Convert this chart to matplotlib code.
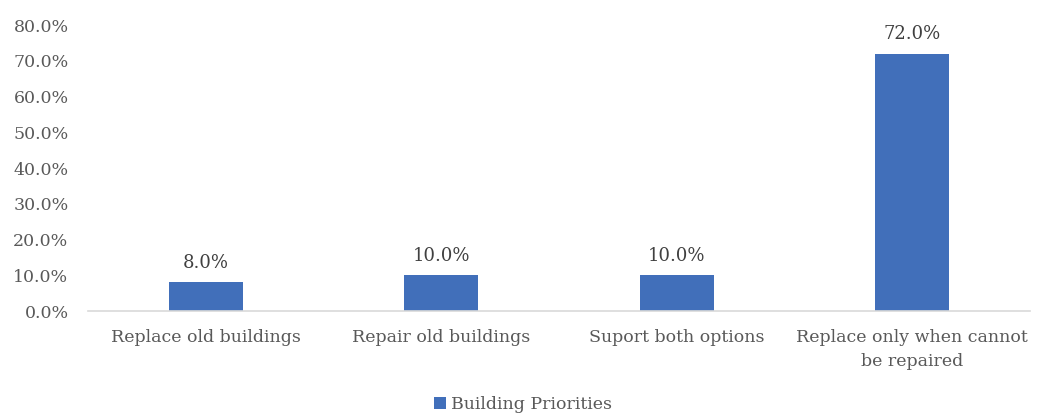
import matplotlib.pyplot as plt
from matplotlib.ticker import PercentFormatter

categories = ['Replace old buildings', 'Repair old buildings', 'Suport both options',
              'Replace only when cannot\nbe repaired']
shares = [8.0, 10.0, 10.0, 72.0]
series_name = 'Building Priorities'

plt.rcParams['font.family'] = ['DejaVu Serif']
grey = '#595959'

fig = plt.figure(figsize=(10.46, 4.18), dpi=100)
ax = fig.add_axes([88 / 1046, 1 - 311 / 418, (1030 - 88) / 1046, (311 - 25) / 418])

x = range(len(categories))
bars = ax.bar(x, shares, width=0.315, color='#416FBA', label=series_name)
for b, v in zip(bars, shares):
    ax.text(b.get_x() + b.get_width() / 2, v + 3.0, f'{v:.1f}%',
            ha='center', va='bottom', fontsize=13, color='#404040')

ax.set_xlim(-0.5, len(categories) - 0.5)
ax.set_ylim(0, 80)
ax.set_yticks(range(0, 81, 10))
ax.yaxis.set_major_formatter(PercentFormatter(decimals=1))
ax.set_xticks(list(x))
ax.set_xticklabels(categories, linespacing=1.5)
ax.tick_params(length=0, labelsize=12.5, colors=grey)
ax.tick_params(axis='x', pad=13)
ax.tick_params(axis='y', pad=14)

for side in ['top', 'right', 'left']:
    ax.spines[side].set_visible(False)
ax.spines['bottom'].set_color('#d9d9d9')
ax.spines['bottom'].set_linewidth(1.2)

fig.legend(loc='lower center', bbox_to_anchor=(0.5, -0.025), frameon=False,
           handlelength=0.7, handleheight=0.7, handletextpad=0.3,
           fontsize=12.5, labelcolor=grey)

fig.savefig('out.png', dpi=100)
